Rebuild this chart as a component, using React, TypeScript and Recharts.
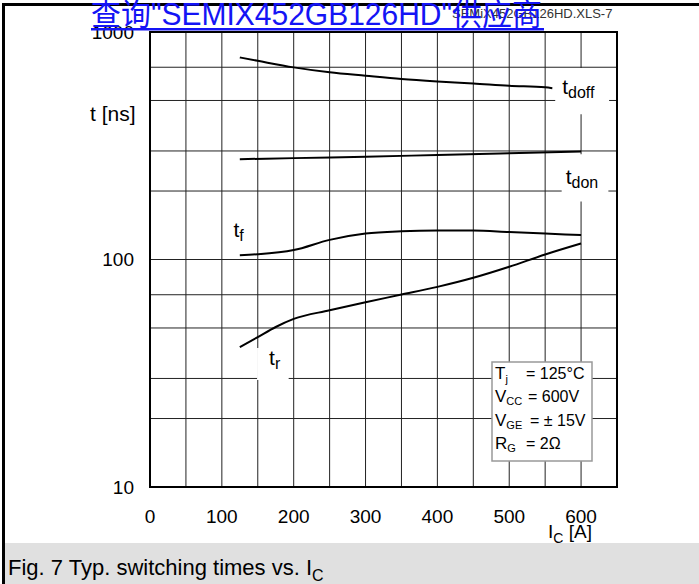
import React from "react";
import {
  LineChart,
  Line,
  XAxis,
  YAxis,
  CartesianGrid,
  ReferenceArea,
  Label,
} from "recharts";

// axis ticks and grid positions
const currentTicks = [0, 100, 200, 300, 400, 500, 600];
const currentGrid = [0, 50, 100, 150, 200, 250, 300, 350, 400, 450, 500, 550, 600, 650];
const timeTicks = [10, 100, 1000];
const timeGrid = [
  10, 20, 30, 40, 50, 60, 70, 80, 90, 100, 200, 300, 400, 500, 600, 700, 800, 900, 1000,
];

// I_C [A] and t [ns]
const tdoffCurrent = [125, 150, 200, 250, 300, 350, 400, 450, 500, 550, 560];
const tdoffTime = [773, 747, 699, 665, 642, 621, 606, 594, 580, 571, 566];

const tdonCurrent = [125, 200, 300, 400, 500, 600];
const tdonTime = [276, 279, 283, 288, 293, 298];

const tfCurrent = [125, 150, 200, 250, 300, 350, 400, 450, 500, 550, 600];
const tfTime = [104.5, 105.5, 110, 122, 130, 133, 134, 134, 132, 130, 128];

const trCurrent = [125, 150, 175, 200, 250, 300, 350, 400, 450, 500, 550, 600];
const trTime = [41.2, 45.6, 50.5, 54.8, 59.8, 64.9, 70.1, 75.8, 83.1, 92.9, 105.2, 117.6];

const toPoints = (xs: number[], ys: number[]) => xs.map((ic, i) => ({ ic, t: ys[i] }));

const font = "'Liberation Sans', Arial, Helvetica, sans-serif";

// white patches behind the curve names (data coords)
const tags = [
  { main: "t", sub: "doff", x1: 564, x2: 639, y1: 694, y2: 435, dx: 7, dy: 26 },
  { main: "t", sub: "don", x1: 573, x2: 638, y1: 290, y2: 180, dx: 4, dy: 30 },
  { main: "t", sub: "f", x1: 112, x2: 140, y1: 150, y2: 112, dx: 3, dy: 18 },
  { main: "t", sub: "r", x1: 149, x2: 193, y1: 40.8, y2: 29.5, dx: 12, dy: 17 },
];

const TagText = ({ viewBox, main, sub, dx, dy }: any) => {
  if (!viewBox) return null;
  return (
    <text x={viewBox.x + dx} y={viewBox.y + dy} fill="#000" fontFamily={font} fontSize={21}>
      <tspan>{main}</tspan>
      <tspan fontSize={16} dy={4}>
        {sub}
      </tspan>
    </text>
  );
};

const Overlay = () => (
  <svg
    width={699}
    height={584}
    style={{ position: "absolute", left: 0, top: 0, pointerEvents: "none" }}
  >
    {/* frame */}
    <rect x={2} y={3} width={697} height={3} fill="#000" />
    <rect x={2} y={3} width={3} height={581} fill="#000" />

    {/* file name */}
    <text x={452} y={18} fontFamily={font} fontSize={13} fill="#333">
      SEMiX452GB126HD.XLS-7
    </text>
    {/* link header */}
    <text
      x={91}
      y={25}
      fontFamily="'Liberation Sans', 'Noto Sans CJK SC', sans-serif"
      fontSize={31}
      fill="#1414f5"
      textLength={451}
      lengthAdjust="spacingAndGlyphs"
    >
      查询"SEMIX452GB126HD"供应商
    </text>
    <rect x={91} y={28} width={453} height={2.5} fill="#1414f5" />

    {/* axis titles */}
    <text x={90} y={121} fontFamily={font} fontSize={21} fill="#000">
      t [ns]
    </text>
    <text x={548} y={538} fontFamily={font} fontSize={19} fill="#000">
      <tspan>I</tspan>
      <tspan fontSize={14} dy={5}>C</tspan>
      <tspan dy={-5}> [A]</tspan>
    </text>

    {/* conditions box */}
    <rect x={492} y={362} width={100} height={99} fill="#fff" stroke="#999" strokeWidth={1.5} />
    <g fontFamily={font} fontSize={16} fill="#000">
      <text x={495} y={379}>
        <tspan fontSize={17}>T</tspan>
        <tspan fontSize={11} dy={4}>j</tspan>
        <tspan x={526} dy={-4}>= 125°C</tspan>
      </text>
      <text x={495} y={402}>
        <tspan fontSize={17}>V</tspan>
        <tspan fontSize={11} dy={3}>CC</tspan>
        <tspan x={528} dy={-3}>= 600V</tspan>
      </text>
      <text x={495} y={426}>
        <tspan fontSize={17}>V</tspan>
        <tspan fontSize={11} dy={3}>GE</tspan>
        <tspan x={530} dy={-3}>= ± 15V</tspan>
      </text>
      <text x={495} y={449}>
        <tspan fontSize={17}>R</tspan>
        <tspan fontSize={11} dy={3}>G</tspan>
        <tspan x={526} dy={-3}>= 2Ω</tspan>
      </text>
    </g>

    {/* caption */}
    <rect x={5} y={543} width={694} height={41} fill="#e0e0e0" />
    <text x={8} y={575} fontFamily={font} fontSize={22} fill="#000">
      <tspan>Fig. 7 Typ. switching times vs. I</tspan>
      <tspan fontSize={16} dy={6}>C</tspan>
    </text>
  </svg>
);

export default function App() {
  const tickStyle = { fill: "#000", fontSize: 19, fontFamily: font };
  return (
    <div
      style={{
        position: "absolute",
        left: 0,
        top: 0,
        width: 699,
        height: 584,
        background: "#fff",
        overflow: "hidden",
      }}
    >
      <LineChart width={699} height={540} margin={{ top: 32, right: 82, bottom: 0, left: 0 }}>
        <XAxis
          dataKey="ic"
          type="number"
          domain={[0, 650]}
          ticks={currentTicks}
          allowDataOverflow
          axisLine={false}
          tickLine={false}
          tickSize={0}
          tickMargin={23}
          height={53}
          tick={tickStyle}
        />
        <YAxis
          dataKey="t"
          scale="log"
          type="number"
          domain={[10, 1000]}
          ticks={timeTicks}
          allowDataOverflow
          axisLine={false}
          tickLine={false}
          tickSize={0}
          tickMargin={16}
          width={150}
          tick={tickStyle}
        />
        <CartesianGrid
          horizontalValues={timeGrid}
          verticalValues={currentGrid}
          stroke="#222"
          strokeWidth={1}
        />

        {tags.map((g) => (
          <ReferenceArea
            key={g.sub}
            x1={g.x1}
            x2={g.x2}
            y1={g.y1}
            y2={g.y2}
            fill="#fff"
            fillOpacity={1}
            stroke="none"
            ifOverflow="visible"
          >
            <Label
              content={(p: any) => (
                <TagText viewBox={p.viewBox} main={g.main} sub={g.sub} dx={g.dx} dy={g.dy} />
              )}
            />
          </ReferenceArea>
        ))}

        <ReferenceArea
          x1={0}
          x2={650}
          y1={10}
          y2={1000}
          fill="none"
          stroke="#000"
          strokeWidth={2}
          ifOverflow="visible"
        />

        <Line
          data={toPoints(tdoffCurrent, tdoffTime)}
          dataKey="t"
          type="monotone"
          stroke="#000"
          strokeWidth={2}
          dot={false}
          isAnimationActive={false}
        />
        <Line
          data={toPoints(tdonCurrent, tdonTime)}
          dataKey="t"
          type="monotone"
          stroke="#000"
          strokeWidth={2}
          dot={false}
          isAnimationActive={false}
        />
        <Line
          data={toPoints(tfCurrent, tfTime)}
          dataKey="t"
          type="monotone"
          stroke="#000"
          strokeWidth={2}
          dot={false}
          isAnimationActive={false}
        />
        <Line
          data={toPoints(trCurrent, trTime)}
          dataKey="t"
          type="monotone"
          stroke="#000"
          strokeWidth={2}
          dot={false}
          isAnimationActive={false}
        />
      </LineChart>
      <Overlay />
    </div>
  );
}
